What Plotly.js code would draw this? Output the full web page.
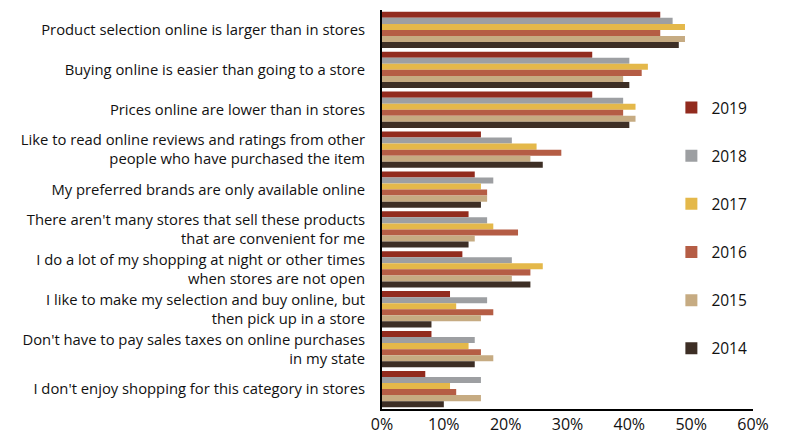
<!DOCTYPE html>
<html><head><meta charset="utf-8">
<script src="https://cdn.plot.ly/plotly-3.0.1.min.js"></script>
<style>html,body{margin:0;padding:0;background:#fff}#chart{width:805px;height:440px}</style>
</head><body><div id="chart"></div>
<script>
const categories = [
  "Product selection online is larger than in stores",
  "Buying online is easier than going to a store",
  "Prices online are lower than in stores",
  "Like to read online reviews and ratings from other<br>people who have purchased the item",
  "My preferred brands are only available online",
  "There aren't many stores that sell these products<br>that are convenient for me",
  "I do a lot of my shopping at night or other times<br>when stores are not open",
  "I like to make my selection and buy online, but<br>then pick up in a store",
  "Don't have to pay sales taxes on online purchases<br>in my state",
  "I don't enjoy shopping for this category in stores"
];
const years = ["2019","2018","2017","2016","2015","2014"];
const v2019 = [45,34,34,16,15,14,13,11,8,7];
const v2018 = [47,40,39,21,18,17,21,17,15,16];
const v2017 = [49,43,41,25,16,18,26,12,14,11];
const v2016 = [45,42,39,29,17,22,24,18,16,12];
const v2015 = [49,39,41,24,17,15,21,16,18,16];
const v2014 = [48,40,40,26,16,14,24,8,15,10];
const series = [v2019,v2018,v2017,v2016,v2015,v2014];
const colors = ["#922b1e","#9d9fa2","#e4b84a","#b55d45","#c6ab82","#3d2e25"];

const traces = series.map((vals,i)=>({
  type:"bar", orientation:"h", name:years[i], legendgroup:years[i],
  y:categories, x:vals.map(v=>v/100),
  marker:{color:colors[i], line:{width:0}},
  hoverinfo:"x+name"
}));

const layout = {
  width:805, height:440,
  margin:{l:382, r:52, t:10, b:31},
  paper_bgcolor:"#fff", plot_bgcolor:"#fff",
  barmode:"group", bargap:0.09, bargroupgap:0,
  font:{family:"Open Sans, sans-serif", color:"#111"},
  xaxis:{range:[0,0.6], dtick:0.1, tickformat:".0%", showgrid:false, zeroline:false,
         showline:true, linecolor:"#000", linewidth:2, ticks:"",
         tickfont:{size:16, color:"#111"}},
  yaxis:{autorange:"reversed", showgrid:false, zeroline:false, showline:true,
         linecolor:"#000", linewidth:2, ticks:"", ticklabelstandoff:12,
         tickfont:{size:14.8, color:"#111"}},
  legend:{x:0.78, xanchor:"left", y:0.797, yanchor:"top", tracegroupgap:25,
          font:{size:15.5, color:"#111"}, bgcolor:"rgba(0,0,0,0)", traceorder:"grouped"},
  showlegend:true
};
Plotly.newPlot("chart", traces, layout, {displayModeBar:false, staticPlot:true});
</script></body></html>
